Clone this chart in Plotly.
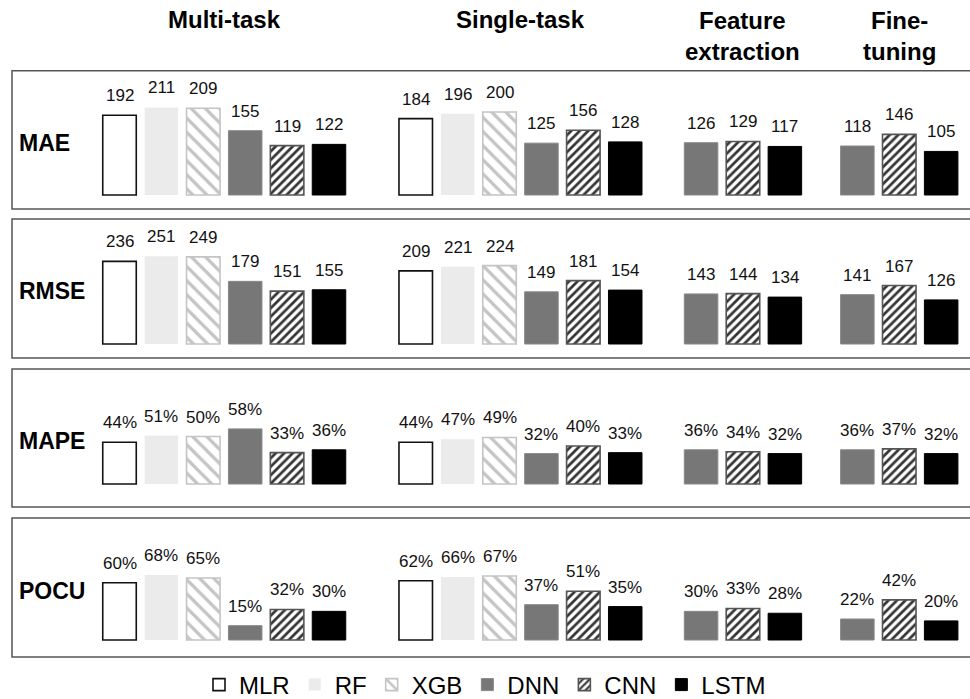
import plotly.graph_objects as go

# ---------------- data ----------------
models = ["MLR", "RF", "XGB", "DNN", "CNN", "LSTM"]
groups = ["Multi-task", "Single-task", "Feature<br>extraction", "Fine-<br>tuning"]
group_models = [models, models, ["DNN", "CNN", "LSTM"], ["DNN", "CNN", "LSTM"]]
metrics = ["MAE", "RMSE", "MAPE", "POCU"]

mae_multi = [192, 211, 209, 155, 119, 122]
mae_single = [184, 196, 200, 125, 156, 128]
mae_fe = [126, 129, 117]
mae_ft = [118, 146, 105]

rmse_multi = [236, 251, 249, 179, 151, 155]
rmse_single = [209, 221, 224, 149, 181, 154]
rmse_fe = [143, 144, 134]
rmse_ft = [141, 167, 126]

mape_multi = [44, 51, 50, 58, 33, 36]
mape_single = [44, 47, 49, 32, 40, 33]
mape_fe = [36, 34, 32]
mape_ft = [36, 37, 32]

pocu_multi = [60, 68, 65, 15, 32, 30]
pocu_single = [62, 66, 67, 37, 51, 35]
pocu_fe = [30, 33, 28]
pocu_ft = [22, 42, 20]

values = {
    "MAE": [mae_multi, mae_single, mae_fe, mae_ft],
    "RMSE": [rmse_multi, rmse_single, rmse_fe, rmse_ft],
    "MAPE": [mape_multi, mape_single, mape_fe, mape_ft],
    "POCU": [pocu_multi, pocu_single, pocu_fe, pocu_ft],
}
units = {"MAE": "", "RMSE": "", "MAPE": "%", "POCU": "%"}

# ---------------- layout constants ----------------
W, H = 970, 699
FONT = "Liberation Sans, Arial, sans-serif"
group_start = [0, 7.07, 13.88, 17.61]       # slot offsets of each group
pitch_px, first_px = 41.9, 119.5           # pixel pitch and first bar centre
box_left_px = 12
x_range = [(box_left_px - first_px) / pitch_px, (W - first_px) / pitch_px]
x_domain = [box_left_px / W, 1.0]

row_top = [70.7, 219, 369, 518]
row_bottom = [209, 358, 507, 657]
row_base = [195, 344, 484, 640]
row_scale = [0.415, 0.35, 0.95, 0.955]      # px per unit

styles = {
    "MLR": dict(color="white", line=dict(color="#111111", width=1.6)),
    "RF": dict(color="#ebebeb", line=dict(color="#ebebeb", width=0)),
    "XGB": dict(color="white", line=dict(color="#c4c4c4", width=1.6),
                pattern=dict(shape="\\", fgcolor="#c4c4c4", bgcolor="white",
                             size=10, solidity=0.32, fillmode="replace")),
    "DNN": dict(color="#777777", line=dict(color="#888888", width=1)),
    "CNN": dict(color="white", line=dict(color="#555555", width=1.6),
                pattern=dict(shape="/", fgcolor="#333333", bgcolor="white",
                             size=6, solidity=0.45, fillmode="replace")),
    "LSTM": dict(color="black", line=dict(color="black", width=1)),
}


def xpos(g, k):
    return group_start[g] + k


fig = go.Figure()
annotations = []
shapes = []
layout_axes = {}

for r, metric in enumerate(metrics):
    sfx = "" if r == 0 else str(r + 1)
    xa, ya = "x" + sfx, "y" + sfx
    # axes
    top, bot, base, sc = row_top[r], row_bottom[r], row_base[r], row_scale[r]
    y_dom = [1 - bot / H, 1 - top / H]
    y_rng = [-(bot - base) / sc, (base - top) / sc]
    layout_axes["xaxis" + sfx] = dict(domain=x_domain, range=x_range, visible=False,
                                      anchor=ya, fixedrange=True)
    layout_axes["yaxis" + sfx] = dict(domain=y_dom, range=y_rng, visible=False,
                                      anchor=xa, fixedrange=True)
    # panel box
    shapes.append(dict(type="rect", xref="paper", yref="paper",
                       x0=x_domain[0], x1=1.05, y0=y_dom[0], y1=y_dom[1],
                       line=dict(color="#555555", width=1.5), layer="below"))
    # row label
    annotations.append(dict(text="<b>%s</b>" % metric, xref="paper", yref="paper",
                            x=17 / W, y=1 - ((top + bot) / 2 + 3) / H,
                            xanchor="left", yanchor="middle", showarrow=False,
                            font=dict(family=FONT, size=23, color="black")))
    # bars
    for m in models:
        xs, ys = [], []
        for g, gm in enumerate(group_models):
            if m in gm:
                k = gm.index(m)
                xs.append(xpos(g, k))
                ys.append(values[metric][g][k])
        fig.add_trace(go.Bar(x=xs, y=ys, width=0.8, name=m, legendgroup=m,
                             showlegend=(r == 0), marker=styles[m],
                             xaxis=xa, yaxis=ya, hoverinfo="y+name"))
    # value labels
    for g, gm in enumerate(group_models):
        for k, m in enumerate(gm):
            v = values[metric][g][k]
            annotations.append(dict(text="%d%s" % (v, units[metric]), x=xpos(g, k), y=v,
                                    xref=xa, yref=ya, yanchor="bottom", yshift=8,
                                    showarrow=False,
                                    font=dict(family=FONT, size=17, color="#111111")))

# group headers
for g, name in enumerate(groups):
    n = len(group_models[g])
    cx = group_start[g] + (n - 1) / 2
    two = "<br>" in name
    annotations.append(dict(text="<b>%s</b>" % name, x=cx, xref="x",
                            y=1 - (36 if two else 19.5) / H, yref="paper",
                            xanchor="center", yanchor="middle", showarrow=False,
                            font=dict(family=FONT, size=24, color="black")))

fig.update_layout(
    width=W, height=H,
    margin=dict(l=0, r=0, t=0, b=0, autoexpand=False),
    paper_bgcolor="white", plot_bgcolor="white",
    barmode="overlay",
    showlegend=True,
    legend=dict(orientation="h", x=0.5, xanchor="center", y=1 - 685 / H,
                yanchor="middle", font=dict(family=FONT, size=24, color="black"),
                traceorder="normal", itemclick=False, itemdoubleclick=False),
    annotations=annotations,
    shapes=shapes,
    **layout_axes,
)

fig.write_html("out.html", config={"displayModeBar": False},
               post_script="document.body.style.margin='0';document.body.style.overflow='hidden';")
